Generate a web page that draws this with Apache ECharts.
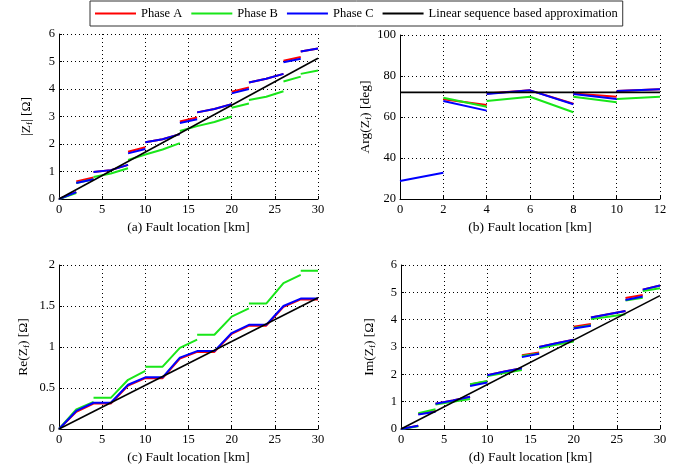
<!DOCTYPE html>
<html><head><meta charset="utf-8">
<script src="https://cdn.jsdelivr.net/npm/echarts@6/dist/echarts.min.js"></script>
<style>html,body{margin:0;padding:0;background:#fff}#c{width:679px;height:470px}</style>
</head><body><div id="c"></div>
<script>
// ---- legend / labels ----
const seriesNames = ['Phase A', 'Phase B', 'Phase C', 'Linear sequence based approximation'];
const xNames = ['(a) Fault location [km]', '(b) Fault location [km]', '(c) Fault location [km]', '(d) Fault location [km]'];
const yNames = ['|Z{s|f}| [Ω]', 'Arg(Z{s|f}) [deg]', 'Re(Z{s|f}) [Ω]', 'Im(Z{s|f}) [Ω]'];

// ---- (a) |Zf| vs fault location, null = gap ----
const magA = [[0,0],[2,0.25],null,[2,0.64],[4,0.78],null,[4,0.98],[6,1.05],[8,1.24],null,[8,1.72],[10,1.88],null,[10,2.06],[12,2.17],[14,2.36],null,[14,2.82],[16,2.96],null,[16,3.15],[18,3.27],[20,3.45],null,[20,3.9],[22,4.06],null,[22,4.24],[24,4.37],[26,4.55],null,[26,5.03],[28,5.16],null,[28,5.36],[30,5.47]];
const magB = [[0,0],[2,0.22],null,[2,0.58],[4,0.72],null,[4,0.8],[6,0.93],[8,1.12],null,[8,1.42],[10,1.62],[12,1.8],[14,2.03],null,[14,2.47],[16,2.65],[18,2.8],[20,3.0],null,[20,3.32],[22,3.47],null,[22,3.6],[24,3.72],[26,3.92],null,[26,4.27],[28,4.45],null,[28,4.55],[30,4.67]];
const magC = [[0,0],[2,0.25],null,[2,0.58],[4,0.72],null,[4,0.98],[6,1.05],[8,1.24],null,[8,1.66],[10,1.82],null,[10,2.06],[12,2.17],[14,2.36],null,[14,2.76],[16,2.9],null,[16,3.15],[18,3.27],[20,3.45],null,[20,3.84],[22,4.0],null,[22,4.24],[24,4.37],[26,4.55],null,[26,4.97],[28,5.1],null,[28,5.36],[30,5.47]];
const magLin = [[0,0],[30,5.12]];

// ---- (b) Arg(Zf) ----
const argA = [[2,68.7],[4,65.9],null,[4,71.5],[6,73.0],[8,66.5],null,[8,71.5],[10,69.9],null,[10,72.7],[12,73.5]];
const argB = [[2,69.4],[4,65.0],null,[4,67.8],[6,69.9],[8,62.3],null,[8,69.9],[10,67.2],null,[10,68.8],[12,69.9]];
const argC = [[0,28.8],[2,32.8],null,[2,67.8],[4,63.1],null,[4,71.2],[6,73.0],[8,66.2],null,[8,71.2],[10,68.8],null,[10,72.7],[12,73.5]];
const argLin = [[0,72],[12,72]];

// ---- (c) Re(Zf) ----
const reA = [[0,0],[2,0.21],[4,0.31],[6,0.31],[8,0.53],[10,0.62],[12,0.62],[14,0.86],[16,0.94],[18,0.94],[20,1.16],[22,1.26],[24,1.26],[26,1.49],[28,1.58],[30,1.58]];
const reB = [[0,0],[2,0.24],[4,0.33],null,[4,0.38],[6,0.38],[8,0.6],[10,0.71],null,[10,0.76],[12,0.76],[14,0.99],[16,1.09],null,[16,1.15],[18,1.15],[20,1.37],[22,1.47],null,[22,1.53],[24,1.53],[26,1.78],[28,1.88],null,[28,1.93],[30,1.93]];
const reC = [[0,0],[2,0.22],[4,0.32],[6,0.32],[8,0.54],[10,0.63],[12,0.63],[14,0.87],[16,0.95],[18,0.95],[20,1.17],[22,1.27],[24,1.27],[26,1.5],[28,1.59],[30,1.59]];
const reLin = [[0,0],[30,1.6]];

// ---- (d) Im(Zf) ----
const imA = [[0,0],[2,0.12],null,[2,0.55],[4,0.66],null,[4,0.92],[6,1.04],[8,1.18],null,[8,1.63],[10,1.75],null,[10,1.97],[12,2.1],[14,2.22],null,[14,2.7],[16,2.8],null,[16,3.0],[18,3.14],[20,3.27],null,[20,3.74],[22,3.84],null,[22,4.08],[24,4.2],[26,4.32],null,[26,4.79],[28,4.9],null,[28,5.1],[30,5.25]];
const imB = [[0,0],[2,0.1],null,[2,0.58],[4,0.72],null,[4,0.9],[6,1.0],[8,1.1],null,[8,1.64],[10,1.76],null,[10,1.94],[12,2.05],[14,2.16],null,[14,2.67],[16,2.76],null,[16,2.95],[18,3.08],[20,3.2],null,[20,3.7],[22,3.8],null,[22,4.02],[24,4.11],[26,4.2],null,[26,4.7],[28,4.8],null,[28,5.05],[30,5.15]];
const imC = [[0,0],[2,0.12],null,[2,0.53],[4,0.63],null,[4,0.92],[6,1.04],[8,1.18],null,[8,1.57],[10,1.7],null,[10,1.97],[12,2.1],[14,2.22],null,[14,2.63],[16,2.75],null,[16,3.0],[18,3.14],[20,3.27],null,[20,3.68],[22,3.78],null,[22,4.08],[24,4.2],[26,4.32],null,[26,4.72],[28,4.85],null,[28,5.1],[30,5.25]];
const imLin = [[0,0],[30,4.88]];

// ---- axis ranges ----
const xRanges = [[0,30,5],[0,12,2],[0,30,5],[0,30,5]];
const yRanges = [[0,6,1],[20,100,20],[0,2,0.5],[0,6,1]];

const panels = [[magA,magB,magC,magLin],[argA,argB,argC,argLin],[reA,reB,reC,reLin],[imA,imB,imC,imLin]];
const colors = ['#ff0000','#19e619','#0000ff','#000000'];
const widths = [2,2,2,1.6];

const FONT = 'Liberation Serif';
const grids = [
  {left:59, top:34, width:259, height:165},
  {left:400, top:35, width:260, height:164},
  {left:59, top:265, width:259, height:164},
  {left:401, top:265, width:259, height:164}
];
const yGaps = [25, 27, 28, 24];

function fix(arr){ return arr.map(p => p === null ? ['-','-'] : p); }

const xAxis = [], yAxis = [], series = [];
for (let i = 0; i < 4; i++) {
  const common = {
    axisLine:{show:true, onZero:false, lineStyle:{color:'#000', width:1}},
    axisTick:{show:true, inside:true, length:3, lineStyle:{color:'#000'}},
    splitLine:{show:true, lineStyle:{color:'#000', type:[1,3], width:1}},
    axisLabel:{color:'#000', fontFamily:FONT, fontSize:12.5, margin:4},
    nameTextStyle:{color:'#000', fontFamily:FONT, fontSize:13.5,
      rich:{s:{fontFamily:FONT, fontSize:9, padding:[7,0,0,0], color:'#000'}}}
  };
  xAxis.push(Object.assign({}, common, {type:'value', gridIndex:i, min:xRanges[i][0], max:xRanges[i][1], interval:xRanges[i][2],
    name:xNames[i], nameLocation:'middle', nameGap:21}));
  yAxis.push(Object.assign({}, common, {type:'value', gridIndex:i, min:yRanges[i][0], max:yRanges[i][1], interval:yRanges[i][2],
    name:yNames[i], nameLocation:'middle', nameGap:yGaps[i]}));
  for (let k = 0; k < 4; k++) {
    series.push({type:'line', name:seriesNames[k], xAxisIndex:i, yAxisIndex:i, data:fix(panels[i][k]),
      showSymbol:false, symbol:'none', connectNulls:false, animation:false,
      lineStyle:{color:colors[k], width:widths[k]}, itemStyle:{color:colors[k]}, z:2+k});
  }
}

const chart = echarts.init(document.getElementById('c'), null, {renderer:'canvas'});
chart.setOption({
  backgroundColor:'#fff',
  animation:false,
  legend:{data:seriesNames, left:90, top:1, itemWidth:41, itemHeight:2, itemGap:9, icon:'rect',
    borderColor:'#333', borderWidth:1, padding:[6,5], borderRadius:0,
    textStyle:{color:'#000', fontFamily:FONT, fontSize:12.5}},
  grid:grids,
  xAxis:xAxis, yAxis:yAxis, series:series
});
</script></body></html>
